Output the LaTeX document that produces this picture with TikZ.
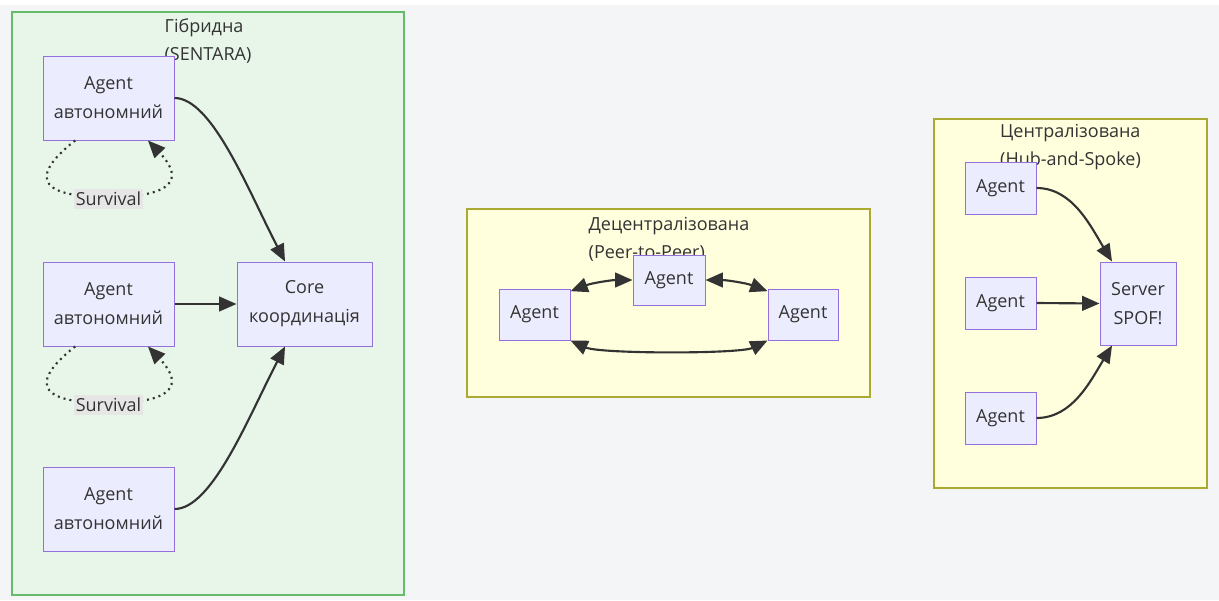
\documentclass[tikz,border=0pt]{standalone}
\usepackage{fontspec}
\setmainfont{Open Sans}
\usepackage{xcolor}
\usetikzlibrary{arrows.meta}
\definecolor{SNBack}{HTML}{F4F5F7}
\definecolor{SNFill}{HTML}{ECECFF}
\definecolor{SNStroke}{HTML}{9370DB}
\definecolor{SNEdge}{HTML}{333333}
\definecolor{SNGreenFill}{HTML}{E8F5E9}
\definecolor{SNGreenLine}{HTML}{66BB6A}
\definecolor{SNYellowFill}{HTML}{FFFFDE}
\definecolor{SNYellowLine}{HTML}{AAAA33}
\definecolor{SNLabel}{HTML}{E6E6E6}

\begin{document}
\begin{tikzpicture}[x=0.75pt,y=-0.75pt,
  agent/.style={draw=SNStroke,fill=SNFill,line width=0.75pt,align=center,inner sep=0pt,
    font=\fontsize{13.5}{21.75}\selectfont,text=SNEdge},
  cluster/.style={line width=1.5pt},
  title/.style={align=left,inner sep=0pt,font=\fontsize{13.5}{21}\selectfont,text=SNEdge},
  link/.style={draw=SNEdge,line width=1.6pt,-{Triangle[length=13pt,width=11pt]}},
  twoway/.style={link,{Triangle[length=13pt,width=11pt]}-{Triangle[length=13pt,width=11pt]}},
  survive/.style={draw=SNEdge,line width=1.6pt,dash pattern=on 1.5pt off 3pt,-{Triangle[length=13pt,width=11pt]}},
  survlabel/.style={fill=SNLabel,inner xsep=1.5pt,inner ysep=2.5pt,font=\fontsize{13.5}{16}\selectfont,text=SNEdge}]
\path[use as bounding box,fill=SNBack] (0,0) rectangle (1219,600);
\fill[white] (0,0) rectangle (1219,5);

% clusters
\draw[cluster,draw=SNGreenLine,fill=SNGreenFill] (12,12) rectangle (404,595);
\node[title] (tHyb) at (208,41) {Гібридна\\(SENTARA)};
\draw[cluster,line width=1pt,draw=SNYellowLine,fill=SNYellowFill] (467,209) rectangle (870,397);
\node[title] (tDec) at (669,239) {Децентралізована\\(Peer-to-Peer)};
\draw[cluster,line width=1pt,draw=SNYellowLine,fill=SNYellowFill] (934,119) rectangle (1207,488);
\node[title] (tCen) at (1070.5,147.5) {Централізована\\(Hub-and-Spoke)};

% hybrid
\node[agent,minimum width=98.25pt,minimum height=63pt] (a1) at (108.5,98) {Agent\\автономний};
\node[agent,minimum width=98.25pt,minimum height=63pt] (a2) at (108.5,304) {Agent\\автономний};
\node[agent,minimum width=98.25pt,minimum height=63pt] (a3) at (108.5,509) {Agent\\автономний};
\node[agent,minimum width=101.25pt,minimum height=63pt] (core) at (304.5,304) {Core\\координація};

\draw[link] (a1.east) .. controls (212,98) and (248,190) .. ([xshift=-14.6pt]core.north);
\draw[link] (a2.east) -- (core.west);
\draw[link] (a3.east) .. controls (212,509) and (248,418) .. ([xshift=-14.6pt]core.south);

\draw[survive] ([xshift=-25pt]a1.south) .. controls (35,172) and (30,197) .. (108,197)
  .. controls (186,197) and (178,172) .. ([xshift=29.6pt]a1.south);
\node[survlabel] (s1) at (108.5,199) {Survival};
\draw[survive] ([xshift=-25pt]a2.south) .. controls (35,378) and (30,403) .. (108,403)
  .. controls (186,403) and (178,378) .. ([xshift=29.6pt]a2.south);
\node[survlabel] (s2) at (108.5,405) {Survival};

% peer to peer
\node[agent,minimum width=53.25pt,minimum height=38.25pt] (p1) at (534.5,314.5) {Agent};
\node[agent,minimum width=54pt,minimum height=37.5pt] (p2) at (669,280) {Agent};
\node[agent,minimum width=52.5pt,minimum height=38.25pt] (p3) at (803,314.5) {Agent};

\draw[twoway] ([yshift=-2pt]p1.north east) .. controls (592,283) and (612,280) .. (p2.west);
\draw[twoway] (p2.east) .. controls (726,280) and (746,283) .. ([yshift=-2pt]p3.north west);
\draw[twoway] (p1.south east) .. controls (600,354) and (740,354) .. (p3.south west);

% hub and spoke
\node[agent,minimum width=53.25pt,minimum height=39pt] (h1) at (1000.5,188) {Agent};
\node[agent,minimum width=53.25pt,minimum height=39pt] (h2) at (1000.5,303) {Agent};
\node[agent,minimum width=53.25pt,minimum height=39pt] (h3) at (1000.5,418) {Agent};
\node[agent,minimum width=57pt,minimum height=62.25pt] (srv) at (1138,303.5) {Server\\SPOF!};

\draw[link] (h1.east) .. controls (1072,188) and (1090,225) .. ([xshift=-19.5pt]srv.north);
\draw[link] (h2.east) -- (srv.west);
\draw[link] (h3.east) .. controls (1072,418) and (1090,382) .. ([xshift=-19.5pt]srv.south);
\end{tikzpicture}
\end{document}
